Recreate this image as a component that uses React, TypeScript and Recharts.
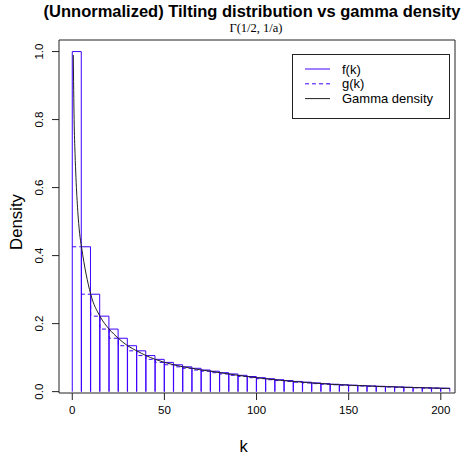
import React from "react";
import {
  ComposedChart,
  Bar,
  Line,
  XAxis,
  YAxis,
  Legend,
  ReferenceArea,
} from "recharts";

// bins of width 5, left edges
const binStarts = [
  0, 5, 10, 15, 20, 25, 30, 35, 40, 45, 50, 55, 60, 65, 70, 75, 80, 85, 90, 95,
  100, 105, 110, 115, 120, 125, 130, 135, 140, 145, 150, 155, 160, 165, 170,
  175, 180, 185, 190, 195, 200,
];
const binWidth = 5;

// f(k)
const fValues = [
  1.0, 0.426, 0.2865, 0.222, 0.184, 0.157, 0.135, 0.12, 0.106, 0.095, 0.086,
  0.079, 0.073, 0.0686, 0.0636, 0.06, 0.0557, 0.052, 0.048, 0.0445, 0.041,
  0.038, 0.035, 0.0325, 0.03, 0.0278, 0.0256, 0.0236, 0.0217, 0.0203, 0.019,
  0.0178, 0.0167, 0.0157, 0.0147, 0.0138, 0.0129, 0.0121, 0.0113, 0.0106, 0.01,
];

// g(k), the dashed lower steps
const gValues = [
  0.426, 0.2865, 0.222, 0.184, 0.157, 0.135, 0.12, 0.106, 0.095, 0.086, 0.079,
  0.073, 0.0686, 0.0636, 0.06, 0.0557, 0.052, 0.048, 0.0445, 0.041, 0.038,
  0.035, 0.0325, 0.03, 0.0278, 0.0256, 0.0236, 0.0217, 0.0203, 0.019, 0.0178,
  0.0167, 0.0157, 0.0147, 0.0138, 0.0129, 0.0121, 0.0113, 0.0106, 0.01, 0.0094,
];

// gamma density curve
const curveK = [
  0.55, 1, 1.5, 2, 3, 4, 5, 10, 15, 20, 25, 30, 35, 40, 45, 50, 55, 60, 65, 70,
  75, 80, 85, 90, 95, 100, 105, 110, 115, 120, 125, 130, 135, 140, 145, 150,
  155, 160, 165, 170, 175, 180, 185, 190, 195, 200, 205,
];
const curveDensity = [
  0.99, 0.8, 0.7, 0.63, 0.53, 0.465, 0.426, 0.2865, 0.222, 0.184, 0.157, 0.135,
  0.12, 0.106, 0.095, 0.086, 0.079, 0.073, 0.0686, 0.0636, 0.06, 0.0557, 0.052,
  0.048, 0.0445, 0.041, 0.038, 0.035, 0.0325, 0.03, 0.0278, 0.0256, 0.0236,
  0.0217, 0.0203, 0.019, 0.0178, 0.0167, 0.0157, 0.0147, 0.0138, 0.0129,
  0.0121, 0.0113, 0.0106, 0.01, 0.0094,
];

const xTicks = [0, 50, 100, 150, 200];
const yTicks = [0, 0.2, 0.4, 0.6, 0.8, 1.0];
const legendOrder = ["f(k)", "g(k)", "Gamma density"];

const X_DOMAIN: [number, number] = [-7.2, 207.7];
const Y_DOMAIN: [number, number] = [-0.004, 1.034];

const BLUE = "#3f00ff";
const INK = "#222";
const FONT = "'Liberation Sans', Arial, Helvetica, sans-serif";

const barData = binStarts.map((k, i) => ({ mid: k + binWidth / 2, f: fValues[i] }));
const gData = [
  ...binStarts.map((k, i) => ({ k, g: gValues[i] })),
  { k: binStarts[binStarts.length - 1] + binWidth, g: gValues[gValues.length - 1] },
];
const curveData = curveK.map((k, i) => ({ k, d: curveDensity[i] }));

const legendStyles: Record<string, { stroke: string; dash?: string }> = {
  "f(k)": { stroke: BLUE },
  "g(k)": { stroke: BLUE, dash: "4 3" },
  "Gamma density": { stroke: INK },
};

const BarOutline = (props: any) => {
  const { x, y, width, height } = props;
  if (x == null || y == null) return null;
  return (
    <path
      d={`M${x},${y + height}V${y}H${x + width}V${y + height}`}
      fill="none"
      stroke={BLUE}
      strokeWidth={1}
    />
  );
};

const XTick = ({ x, y, payload }: any) => (
  <text x={x} y={y + 12} textAnchor="middle" fontSize={11.5} fontFamily={FONT} fill="#000">
    {payload.value}
  </text>
);

const YTick = ({ x, y, payload }: any) => (
  <text
    x={x - 7}
    y={y}
    transform={`rotate(-90 ${x - 7} ${y})`}
    textAnchor="middle"
    fontSize={11.5}
    fontFamily={FONT}
    fill="#000"
  >
    {Number(payload.value).toFixed(1)}
  </text>
);

const LegendBox = ({ payload }: any) => {
  const names = (payload || []).map((p: any) => p.value);
  const items = legendOrder.filter((n) => names.includes(n));
  return (
    <svg width={158} height={65}>
      <rect x={0.5} y={0.5} width={157} height={64} fill="#fff" stroke={INK} />
      {items.map((name, i) => {
        const s = legendStyles[name];
        const cy = 15 + i * 14.8;
        return (
          <g key={name}>
            <line x1={13} x2={38} y1={cy} y2={cy} stroke={s.stroke} strokeDasharray={s.dash} />
            <text x={50} y={cy + 4.5} fontSize={13} fontFamily={FONT} fill="#000">
              {name}
            </text>
          </g>
        );
      })}
    </svg>
  );
};

export default function App() {
  return (
    <div style={{ position: "absolute", left: 0, top: 0, width: 473, height: 458, background: "#fff" }}>
      <ComposedChart
        width={473}
        height={458}
        data={barData}
        margin={{ top: 40, right: 18, bottom: 0, left: 0 }}
        barCategoryGap={0}
        barGap={0}
      >
        <XAxis
          xAxisId="bins"
          dataKey="mid"
          type="number"
          domain={X_DOMAIN}
          allowDataOverflow
          ticks={xTicks}
          interval={0}
          height={65}
          axisLine={false}
          tickSize={7}
          tickLine={{ stroke: INK }}
          tick={<XTick />}
        />
        <XAxis xAxisId="fine" dataKey="k" type="number" domain={X_DOMAIN} allowDataOverflow hide />
        <YAxis
          type="number"
          domain={Y_DOMAIN}
          allowDataOverflow
          ticks={yTicks}
          interval={0}
          width={59}
          axisLine={false}
          tickSize={7}
          tickLine={{ stroke: INK }}
          tick={<YTick />}
        />
        <Bar
          xAxisId="bins"
          dataKey="f"
          name="f(k)"
          fill={BLUE}
          shape={<BarOutline />}
          isAnimationActive={false}
        />
        <Line
          xAxisId="fine"
          data={gData}
          dataKey="g"
          name="g(k)"
          type="stepAfter"
          stroke={BLUE}
          strokeDasharray="4 3"
          strokeWidth={1}
          dot={false}
          activeDot={false}
          isAnimationActive={false}
        />
        <Line
          xAxisId="fine"
          data={curveData}
          dataKey="d"
          name="Gamma density"
          type="monotone"
          stroke={INK}
          strokeWidth={1}
          dot={false}
          activeDot={false}
          isAnimationActive={false}
        />
        <ReferenceArea
          xAxisId="bins"
          y1={Y_DOMAIN[0]}
          y2={Y_DOMAIN[1]}
          fill="none"
          stroke={INK}
          strokeWidth={1}
          ifOverflow="visible"
        />
        <Legend
          layout="vertical"
          align="center"
          verticalAlign="middle"
          content={<LegendBox />}
          wrapperStyle={{ position: "absolute", left: 292, top: 54, width: 158, height: 65 }}
        />
      </ComposedChart>
      <svg
        width={473}
        height={458}
        style={{ position: "absolute", left: 0, top: 0, pointerEvents: "none" }}
      >
        <text x={252} y={17} textAnchor="middle" fontSize={16.5} fontWeight="bold" fontFamily={FONT} fill="#000">
          (Unnormalized) Tilting distribution vs gamma density
        </text>
        <text x={256} y={32} textAnchor="middle" fontSize={12.5} fontFamily="'Liberation Serif', 'Times New Roman', serif" fill="#000">
          Γ(1/2, 1/a)
        </text>
        <text x={243.5} y={452} textAnchor="middle" fontSize={16.5} fontFamily={FONT} fill="#000">
          k
        </text>
        <text
          x={22}
          y={222}
          transform="rotate(-90 22 222)"
          textAnchor="middle"
          fontSize={16.8}
          fontFamily={FONT}
          fill="#000"
        >
          Density
        </text>
      </svg>
    </div>
  );
}
